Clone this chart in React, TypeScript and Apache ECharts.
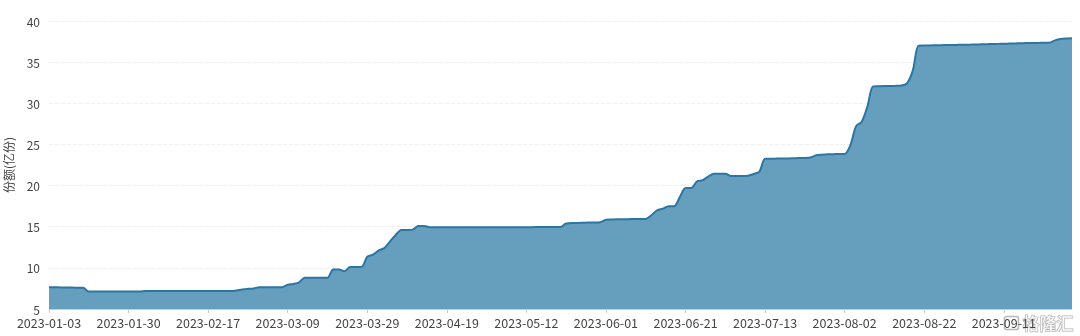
import React, { useEffect, useRef } from "react";
import * as echarts from "echarts";

// Trading-day calendar (Shanghai/Shenzhen, 2023)
const startDate = "2023-01-03";
const pointCount = 181;
const holidays = [
  "2023-01-02", "2023-01-23", "2023-01-24", "2023-01-25", "2023-01-26", "2023-01-27",
  "2023-04-05", "2023-05-01", "2023-05-02", "2023-05-03", "2023-06-22", "2023-06-23",
  "2023-09-29", "2023-10-02", "2023-10-03", "2023-10-04", "2023-10-05", "2023-10-06",
];

function buildDates(start: string, n: number): string[] {
  const out: string[] = [];
  const d = new Date(start + "T00:00:00Z");
  while (out.length < n) {
    const s = d.toISOString().slice(0, 10);
    const wd = d.getUTCDay();
    if (wd !== 0 && wd !== 6 && holidays.indexOf(s) < 0) out.push(s);
    d.setUTCDate(d.getUTCDate() + 1);
  }
  return out;
}

const categories = buildDates(startDate, pointCount);

// 份额 (亿份)
const shares = [
  // 0-6
  7.65, 7.65, 7.62, 7.6, 7.6, 7.58, 7.58,
  // 7-16
  7.12, 7.12, 7.12, 7.12, 7.12, 7.12, 7.12, 7.12, 7.12, 7.12,
  // 17-32
  7.18, 7.18, 7.18, 7.18, 7.18, 7.18, 7.18, 7.18, 7.18, 7.18, 7.18, 7.18, 7.18, 7.18, 7.18, 7.18,
  // 33-41
  7.25, 7.38, 7.45, 7.5, 7.65, 7.65, 7.65, 7.65, 7.65,
  // 42-49
  7.95, 8.05, 8.25, 8.8, 8.8, 8.8, 8.8, 8.8,
  // 50-55
  9.8, 9.8, 9.6, 10.1, 10.1, 10.12,
  // 56-67
  11.35, 11.6, 12.1, 12.4, 13.2, 14.0, 14.6, 14.6, 14.65, 15.1, 15.1, 14.95,
  // 68-90
  14.95, 14.95, 14.95, 14.95, 14.95, 14.95, 14.95, 14.95, 14.95, 14.95, 14.95, 14.95,
  14.95, 14.95, 14.95, 14.95, 14.95, 14.95, 14.96, 14.96, 14.96, 14.96, 14.97,
  // 91-97
  15.4, 15.45, 15.45, 15.48, 15.5, 15.5, 15.55,
  // 98-105
  15.85, 15.88, 15.9, 15.9, 15.92, 15.95, 15.95, 15.95,
  // 106-126
  16.4, 17.0, 17.2, 17.5, 17.5, 18.6, 19.7, 19.7, 20.5, 20.65, 21.1, 21.45, 21.45, 21.45,
  21.15, 21.15, 21.15, 21.2, 21.4, 21.7, 23.25,
  // 127-134
  23.25, 23.28, 23.3, 23.3, 23.32, 23.35, 23.35, 23.4,
  // 135-140
  23.68, 23.75, 23.8, 23.82, 23.84, 23.85,
  // 141-153
  24.9, 27.2, 27.75, 29.6, 32.05, 32.08, 32.1, 32.1, 32.12, 32.15, 32.45, 34.0, 37.0,
  // 154-176
  37.02, 37.03, 37.05, 37.06, 37.08, 37.09, 37.1, 37.11, 37.12, 37.14, 37.16, 37.18,
  37.2, 37.22, 37.24, 37.26, 37.28, 37.3, 37.32, 37.33, 37.34, 37.36, 37.37,
  // 177-180
  37.65, 37.82, 37.88, 37.9,
];

const yAxisName = "份额(亿份)";
const yMin = 5;
const yMax = 40;
const yStep = 5;
const labelEvery = 14;
const watermark = "格隆汇";

export default function App() {
  const ref = useRef<HTMLDivElement>(null);

  useEffect(() => {
    if (!ref.current) return;
    const chart = echarts.init(ref.current, undefined, { renderer: "svg" });
    const font = "'Noto Sans CJK SC', 'Noto Sans', sans-serif";
    chart.setOption({
      animation: false,
      textStyle: { fontFamily: font },
      grid: {
        left: 49,
        right: 8,
        top: 21,
        bottom: 27,
        containLabel: false,
        outerBoundsMode: "none",
      },
      xAxis: {
        type: "category",
        data: categories,
        boundaryGap: false,
        axisLine: { show: true, lineStyle: { color: "#cccccc" } },
        axisTick: {
          show: true,
          interval: labelEvery - 1,
          length: 4,
          lineStyle: { color: "#cccccc" },
        },
        axisLabel: {
          interval: labelEvery - 1,
          color: "#444444",
          fontSize: 12.5,
          margin: 7,
          fontFamily: font,
          hideOverlap: false,
        },
        splitLine: { show: false },
      },
      yAxis: {
        type: "value",
        min: yMin,
        max: yMax,
        interval: yStep,
        name: yAxisName,
        nameLocation: "middle",
        nameGap: 35,
        nameRotate: 90,
        nameTextStyle: { color: "#444444", fontSize: 12, fontFamily: font },
        axisLine: { show: false },
        axisTick: { show: false },
        axisLabel: { color: "#444444", fontSize: 12, margin: 9, fontFamily: font },
        splitLine: { show: true, lineStyle: { color: "#eceff3", type: "dashed" } },
      },
      series: [
        {
          type: "line",
          data: shares,
          smooth: 0.3,
          symbol: "none",
          lineStyle: { color: "#2b76a3", width: 2 },
          areaStyle: { color: "#659fbd", opacity: 1 },
          itemStyle: { color: "#2b76a3" },
        },
      ],
      graphic: [
        {
          type: "group",
          right: 6,
          bottom: 4,
          silent: true,
          children: [
            {
              type: "rect",
              x: 0,
              y: 3,
              shape: { width: 14, height: 13, r: 2 },
              style: { fill: "none", stroke: "rgba(160,160,160,0.75)", lineWidth: 1.5 },
            },
            {
              type: "text",
              x: 18,
              y: 0,
              style: {
                text: watermark,
                font: "bold 17px 'Noto Sans CJK SC', sans-serif",
                fill: "rgba(255,255,255,0.6)",
                stroke: "rgba(150,150,150,0.75)",
                lineWidth: 1,
              },
            },
          ],
        },
      ],
    });
    return () => chart.dispose();
  }, []);

  return (
    <div
      ref={ref}
      style={{ position: "fixed", left: 0, top: 0, width: 1080, height: 336 }}
    />
  );
}
